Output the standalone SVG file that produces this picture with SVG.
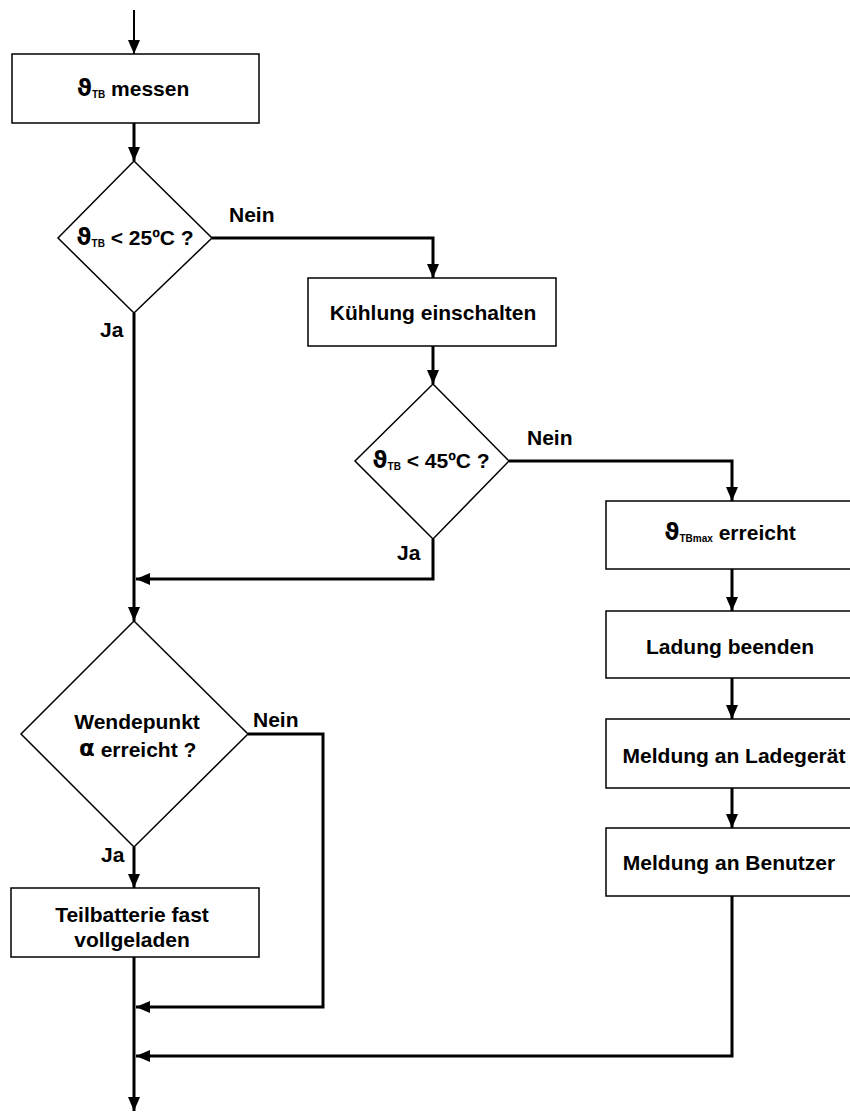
<svg xmlns="http://www.w3.org/2000/svg" width="850" height="1113" viewBox="0 0 850 1113">
  <style>
    .box { fill: #fff; stroke: #000; stroke-width: 1.5; }
    .wire { fill: none; stroke: #000; stroke-width: 3; }
    .thin { fill: none; stroke: #000; stroke-width: 2; }
    .t { font-family: "Liberation Sans", Arial, sans-serif; font-weight: bold; font-size: 21px; fill: #000; }
    .lbl { font-family: "Liberation Sans", Arial, sans-serif; font-weight: bold; font-size: 21px; fill: #000; }
    .sym { font-family: "DejaVu Sans", "Liberation Serif", serif; font-size: 23px; font-weight: bold; }
    .sub { font-size: 10px; }
  </style>
  <defs>
    <marker id="arrow" markerUnits="userSpaceOnUse" markerWidth="14" markerHeight="12" refX="14" refY="6" orient="auto">
      <path d="M0,0 L14,6 L0,12 Z" fill="#000"/>
    </marker>
  </defs>

  <g id="connectors">
    <line class="thin" x1="134" y1="10" x2="134" y2="54" marker-end="url(#arrow)"/>
    <line class="wire" x1="134" y1="123" x2="134" y2="161" marker-end="url(#arrow)"/>
    <polyline class="wire" points="212,238 433,238 433,278" marker-end="url(#arrow)"/>
    <line class="wire" x1="433" y1="346" x2="433" y2="384" marker-end="url(#arrow)"/>
    <polyline class="wire" points="509,461 732,461 732,501" marker-end="url(#arrow)"/>
    <polyline class="wire" points="433,539 433,579 136,579" marker-end="url(#arrow)"/>
    <line class="wire" x1="134" y1="313" x2="134" y2="621" marker-end="url(#arrow)"/>
    <line class="wire" x1="732" y1="569" x2="732" y2="611" marker-end="url(#arrow)"/>
    <line class="wire" x1="732" y1="678" x2="732" y2="719" marker-end="url(#arrow)"/>
    <line class="wire" x1="732" y1="788" x2="732" y2="828" marker-end="url(#arrow)"/>
    <line class="wire" x1="134" y1="847" x2="134" y2="888" marker-end="url(#arrow)"/>
    <polyline class="wire" points="248,734 323,734 323,1007 136,1007" marker-end="url(#arrow)"/>
    <polyline class="wire" points="732,896 732,1056 136,1056" marker-end="url(#arrow)"/>
    <line class="wire" x1="134" y1="957" x2="134" y2="1111" marker-end="url(#arrow)"/>
  </g>

  <g id="n-messen">
    <rect class="box" x="12" y="54" width="247" height="69"/>
    <text class="t" x="133" y="96" text-anchor="middle"><tspan class="sym">ϑ</tspan><tspan class="sub" dy="2">TB</tspan><tspan dy="-2"> messen</tspan></text>
  </g>

  <g id="d-25">
    <polygon class="box" points="134,161 212,238 134,313 58,238"/>
    <text class="t" x="135" y="245" text-anchor="middle"><tspan class="sym">ϑ</tspan><tspan class="sub" dy="2">TB</tspan><tspan dy="-2"> &lt; 25ºC ?</tspan></text>
    <text class="lbl" x="229" y="222">Nein</text>
    <text class="lbl" x="100" y="337">Ja</text>
  </g>

  <g id="n-kuehlung">
    <rect class="box" x="308" y="278" width="248" height="68"/>
    <text class="t" x="433" y="320" text-anchor="middle">Kühlung einschalten</text>
  </g>

  <g id="d-45">
    <polygon class="box" points="433,384 509,461 433,539 355,461"/>
    <text class="t" x="431" y="468" text-anchor="middle"><tspan class="sym">ϑ</tspan><tspan class="sub" dy="2">TB</tspan><tspan dy="-2"> &lt; 45ºC ?</tspan></text>
    <text class="lbl" x="527" y="445">Nein</text>
    <text class="lbl" x="397" y="560">Ja</text>
  </g>

  <g id="n-tbmax">
    <rect class="box" x="606" y="501" width="252" height="68"/>
    <text class="t" x="730" y="540" text-anchor="middle"><tspan class="sym">ϑ</tspan><tspan class="sub" dy="2">TBmax</tspan><tspan dy="-2"> erreicht</tspan></text>
  </g>

  <g id="n-ladung">
    <rect class="box" x="606" y="611" width="252" height="67"/>
    <text class="t" x="730" y="654" text-anchor="middle">Ladung beenden</text>
  </g>

  <g id="n-ladegeraet">
    <rect class="box" x="606" y="719" width="252" height="69"/>
    <text class="t" x="734" y="763" text-anchor="middle">Meldung an Ladegerät</text>
  </g>

  <g id="n-benutzer">
    <rect class="box" x="606" y="828" width="252" height="68"/>
    <text class="t" x="729" y="870" text-anchor="middle">Meldung an Benutzer</text>
  </g>

  <g id="d-wendepunkt">
    <polygon class="box" points="134,621 248,734 134,847 21,734"/>
    <text class="t" x="137" y="729" text-anchor="middle">Wendepunkt</text>
    <text class="t" x="79" y="757"><tspan class="sym" font-size="23" font-weight="normal" dy="-1">α</tspan><tspan dy="1"> erreicht ?</tspan></text>
    <text class="lbl" x="253" y="727">Nein</text>
    <text class="lbl" x="101" y="862">Ja</text>
  </g>

  <g id="n-teilbatterie">
    <rect class="box" x="11" y="888" width="248" height="69"/>
    <text class="t" x="132" y="922" text-anchor="middle">Teilbatterie fast</text>
    <text class="t" x="132" y="947" text-anchor="middle">vollgeladen</text>
  </g>
</svg>
